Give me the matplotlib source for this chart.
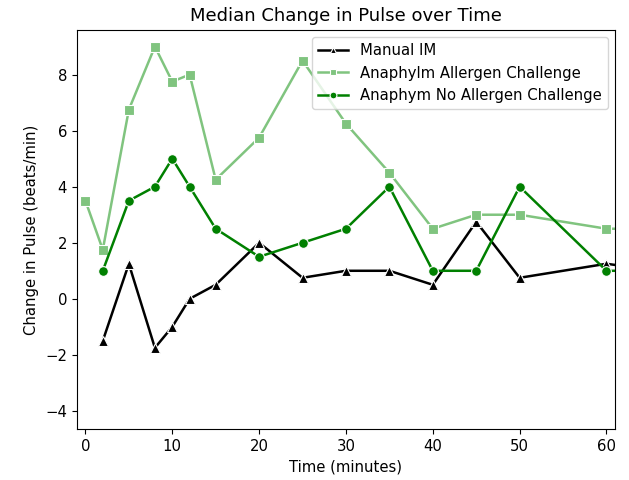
import matplotlib
matplotlib.use("Agg")
import matplotlib.pyplot as plt

# time points (minutes); last point lies past the visible x range
time = [0, 2, 5, 8, 10, 12, 15, 20, 25, 30, 35, 40, 45, 50, 60, 90]

manual_im = [None, -1.5, 1.25, -1.75, -1, 0, 0.5, 2, 0.75, 1, 1, 0.5, 2.75, 0.75, 1.25, 0.0]
anaphylm_allergen = [3.5, 1.75, 6.75, 9, 7.75, 8, 4.25, 5.75, 8.5, 6.25, 4.5, 2.5, 3, 3, 2.5, 2.5]
anaphym_no_allergen = [None, 1, 3.5, 4, 5, 4, 2.5, 1.5, 2, 2.5, 4, 1, 1, 4, 1, 1]


def pairs(xs, ys):
    pts = [(x, y) for x, y in zip(xs, ys) if y is not None]
    return [p[0] for p in pts], [p[1] for p in pts]


fig = plt.figure(figsize=(6.29, 4.8), dpi=100)
ax = fig.add_axes([0.122, 0.106, 0.856, 0.832])

x, y = pairs(time, manual_im)
ax.plot(x, y, color="black", marker="^", markersize=7, markeredgecolor="white",
        markeredgewidth=0.8, linewidth=1.8, label="Manual IM")
x, y = pairs(time, anaphylm_allergen)
ax.plot(x, y, color="#80c47f", marker="s", markersize=7, markeredgecolor="white",
        markeredgewidth=0.8, linewidth=1.8, label="Anaphylm Allergen Challenge")
x, y = pairs(time, anaphym_no_allergen)
ax.plot(x, y, color="green", marker="o", markersize=7, markeredgecolor="white",
        markeredgewidth=0.8, linewidth=1.8, label="Anaphym No Allergen Challenge")

ax.set_xlim(-1, 61)
ax.set_ylim(-4.65, 9.6)
ax.set_xticks([0, 10, 20, 30, 40, 50, 60])
ax.set_yticks([-4, -2, 0, 2, 4, 6, 8])
ax.tick_params(labelsize=10.7)

ax.set_title("Median Change in Pulse over Time", fontsize=13)
ax.set_xlabel("Time (minutes)", fontsize=10.7)
ax.set_ylabel("Change in Pulse (beats/min)", fontsize=10.7)
ax.legend(loc="upper right", fontsize=10.7, markerscale=0.7)

fig.savefig("out.png", dpi=100)
